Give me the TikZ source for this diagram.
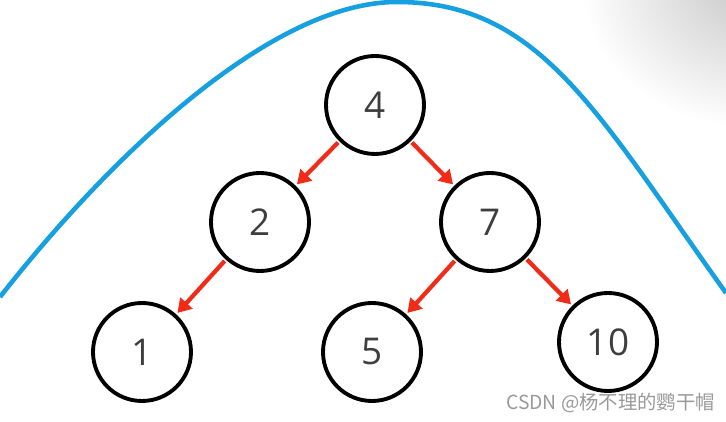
\documentclass[tikz,border=0pt]{standalone}
\usepackage{fontspec}
\setmainfont{Open Sans}
\newfontfamily\cjkfont{Noto Sans CJK SC}
\usetikzlibrary{arrows.meta}
\definecolor{curveblue}{RGB}{22,160,224}
\definecolor{arrowred}{RGB}{242,42,24}
\definecolor{digitgray}{RGB}{62,62,62}
\begin{document}
\begin{tikzpicture}[
  level 1/.style={level distance=2.34cm, sibling distance=4.6cm},
  level 2/.style={level distance=2.6cm, sibling distance=4.72cm},
  treenode/.style={circle, draw=black, line width=2.2pt, minimum size=1.96cm,
    inner sep=0pt, text=digitgray, font=\fontsize{21}{21}\selectfont},
  edge from parent/.style={draw=arrowred, line width=2.4pt,
    -{Triangle[width=0.32cm,length=0.27cm]}, shorten >=1pt, shorten <=1pt}
]
\useasboundingbox (0,0) rectangle (14.52,8.44);
% grey shadow in the corner
\begin{scope}
  \clip (0,0) rectangle (14.52,8.44);
  \shade[inner color=black!22, outer color=white] (15.0,8.8) ellipse (3.4cm and 2.9cm);
\end{scope}
% the blue hill
\draw[curveblue, line width=2.6pt]
  (0,2.5) .. controls (2,5.06) and (5.32,8.4) .. (7.94,8.4)
          .. controls (10.8,8.4) and (11.94,6.18) .. (14.52,2.58);
\node[treenode] (n4) at (7.5,6.34) {4}
  child { node[treenode] (n2) {2}
    child { node[treenode] (n1) {1} }
    child[missing] {}
  }
  child { node[treenode] (n7) {7}
    child { node[treenode] (n5) {5} }
    child { node[treenode, yshift=0.2cm] (n10) {10} }
  };
\node[anchor=east, text=black!40, font=\cjkfont\fontsize{11}{11}\selectfont]
  (mark) at (14.42,0.37) {CSDN @杨不理的鹦干帽};
\end{tikzpicture}
\end{document}
